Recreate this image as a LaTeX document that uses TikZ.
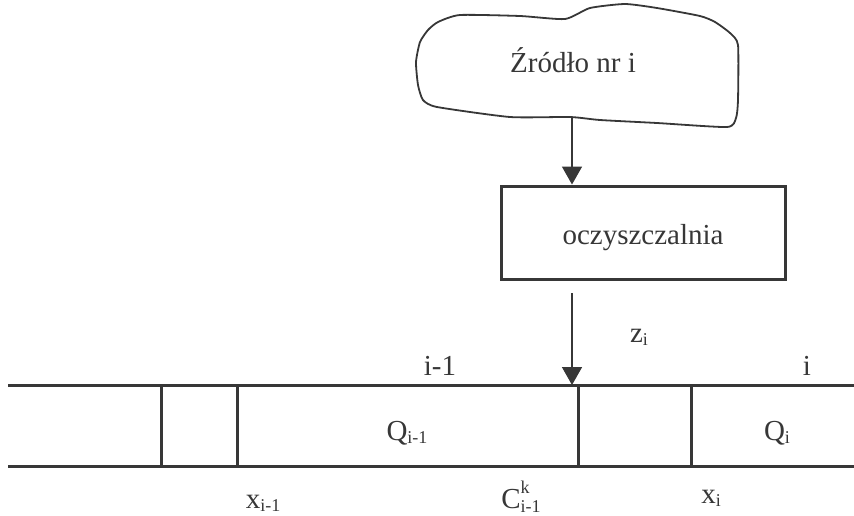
\documentclass[tikz,border=0pt]{standalone}
\usepackage{fontspec}
\setmainfont{Liberation Serif}
\usetikzlibrary{arrows.meta}
\definecolor{ink}{RGB}{55,55,55}
\newcommand\lsub[1]{\raisebox{-3pt}{\fontsize{18}{18}\selectfont #1}}
\newcommand\lsup[1]{\raisebox{15pt}{\fontsize{18}{18}\selectfont #1}}
\begin{document}
\begin{tikzpicture}[x=1pt,y=-1pt,
  ln/.style={draw=ink, line width=3pt},
  thinln/.style={draw=ink, line width=1.6pt},
  arr/.style={thinln, -{Triangle[width=20pt,length=18pt]}},
  lbl/.style={text=ink, font=\fontsize{29}{32}\selectfont, inner sep=0pt, anchor=base},
]
\useasboundingbox (0,0) rectangle (854,515);

% cloud (source)
\draw[draw=ink, line width=1.8pt] plot[smooth cycle, tension=0.35] coordinates {
  (416,62) (420,42) (428,30) (438,22) (460,15) (520,16) (565,19) (590,8)
  (625,4) (657,8) (700,16) (715,22) (730,33) (738,45) (738,100) (736,118)
  (727,127) (657,123) (600,120) (570,117) (510,117) (437,107) (423,100) (418,85)};
\node[lbl] (src) at (573,72) {Źródło nr i};
\coordinate (srcbot) at (572,117);

% treatment plant
\node[ln, minimum width=284pt, minimum height=93pt, inner sep=0pt] (plant) at (643,232.5) {};
\node[lbl] (plantlbl) at (643,244) {oczyszczalnia};
\coordinate (outtop) at (572,293);

% river
\coordinate (tl) at (8,385);
\coordinate (tr) at (854,385);
\coordinate (bl) at (8,466);
\coordinate (br) at (854,466);
\coordinate (v1t) at (161,385); \coordinate (v1b) at (161,466);
\coordinate (v2t) at (237,385); \coordinate (v2b) at (237,466);
\coordinate (v3t) at (578,385); \coordinate (v3b) at (578,466);
\coordinate (v4t) at (691,385); \coordinate (v4b) at (691,466);
\draw[ln] (tl) -- (tr);
\draw[ln] (bl) -- (br);
\draw[ln] (v1t) -- (v1b);
\draw[ln] (v2t) -- (v2b);
\draw[ln] (v3t) -- (v3b);
\draw[ln] (v4t) -- (v4b);
\coordinate (inlet) at (572,385);

% arrows
\draw[arr] (srcbot) -- (srcbot |- plant.north);
\draw[arr] (outtop) -- (inlet);

% labels
\node[lbl] (zi) at (639,342) {z\lsub{i}};
\node[lbl] (im1) at (440,375) {i-1};
\node[lbl] (ii) at (807,375) {i};
\node[lbl] (qim1) at (407,440) {Q\lsub{i-1}};
\node[lbl] (qi) at (777,440) {Q\lsub{i}};
\node[lbl] (xim1) at (263,508) {x\lsub{i-1}};
\node[lbl] (cki) at (521,508) {C\rlap{\lsup{k}}\raisebox{-4pt}{\fontsize{18}{18}\selectfont i-1}};
\node[lbl] (xi) at (711,503) {x\lsub{i}};
\end{tikzpicture}
\end{document}
